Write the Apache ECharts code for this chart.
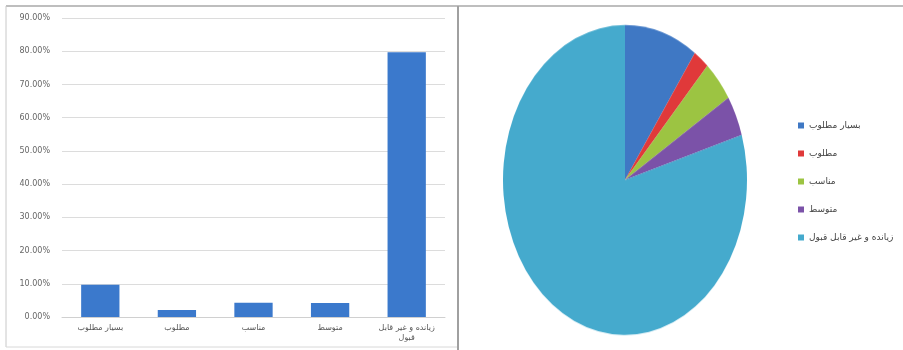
<!DOCTYPE html>
<html>
<head>
<meta charset="utf-8">
<script src="https://cdn.jsdelivr.net/npm/echarts@6/dist/echarts.min.js"></script>
<style>
  html, body { margin: 0; padding: 0; background: #fff; }
  #main { position: absolute; left: 0; top: 0; width: 903px; height: 350px; }
  #pie { position: absolute; left: 500px; top: 55px; width: 250px; height: 250px; transform: scaleY(1.27); transform-origin: 50% 50%; }
</style>
</head>
<body>
<div id="main"></div>
<div id="pie"></div>
<script>
const categories = ['بسیار مطلوب', 'مطلوب', 'مناسب', 'متوسط', 'زیانده و غیر قابل\nقبول'];
const legendNames = ['بسیار مطلوب', 'مطلوب', 'مناسب', 'متوسط', 'زیانده و غیر قابل قبول'];
const values = [9.7, 2.1, 4.3, 4.2, 79.7];
const pieColors = ['#3f78c4', '#e0393a', '#9cc442', '#7b52a8', '#45aacd'];
const yTicks = [0, 10, 20, 30, 40, 50, 60, 70, 80, 90];

const font = 'DejaVu Sans';

const main = echarts.init(document.getElementById('main'), null, { renderer: 'canvas' });
main.setOption({
  animation: false,
  textStyle: { fontFamily: font },
  graphic: [
    { type: 'line', shape: { x1: 6, y1: 6, x2: 903, y2: 6 }, style: { stroke: '#a8a8a8', lineWidth: 1.5 } },
    { type: 'line', shape: { x1: 6, y1: 6, x2: 6, y2: 347 }, style: { stroke: '#c8c8c8', lineWidth: 1 } },
    { type: 'line', shape: { x1: 6, y1: 347, x2: 458, y2: 347 }, style: { stroke: '#d8d8d8', lineWidth: 1 } },
    { type: 'line', shape: { x1: 458, y1: 6, x2: 458, y2: 350 }, style: { stroke: '#a0a0a0', lineWidth: 2 } }
  ],
  grid: { left: 62, right: 903 - 445, top: 18, bottom: 350 - 317, containLabel: false },
  xAxis: {
    type: 'category',
    data: categories,
    axisLine: { show: true, lineStyle: { color: '#d0d0d0' } },
    axisTick: { show: false },
    axisLabel: { color: '#555', fontSize: 8, fontFamily: font, margin: 6, lineHeight: 10, interval: 0 }
  },
  yAxis: {
    type: 'value',
    min: yTicks[0],
    max: yTicks[yTicks.length - 1],
    interval: 10,
    axisLine: { show: false },
    axisTick: { show: false },
    splitLine: { lineStyle: { color: '#dcdcdc', width: 1 } },
    axisLabel: { color: '#666', fontSize: 8, fontFamily: font, margin: 12, formatter: v => v.toFixed(2) + '%' }
  },
  legend: {
    orient: 'vertical',
    left: 793,
    top: 116,
    itemGap: 19,
    itemWidth: 6,
    itemHeight: 6,
    icon: 'rect',
    data: legendNames,
    textStyle: { color: '#444', fontSize: 9, fontFamily: font }
  },
  series: [
    {
      type: 'bar',
      data: values,
      barWidth: '50%',
      itemStyle: { color: '#3b79cc' }
    },
    {
      type: 'pie',
      radius: [0, 0],
      center: [-100, -100],
      silent: true,
      label: { show: false },
      labelLine: { show: false },
      data: legendNames.map((n, i) => ({ name: n, value: values[i], itemStyle: { color: pieColors[i] } }))
    }
  ]
});

const pie = echarts.init(document.getElementById('pie'), null, { renderer: 'svg' });
pie.setOption({
  animation: false,
  series: [{
    type: 'pie',
    center: [125, 125],
    radius: [0, 122],
    startAngle: 90,
    clockwise: true,
    label: { show: false },
    labelLine: { show: false },
    itemStyle: { borderWidth: 0 },
    data: legendNames.map((n, i) => ({ name: n, value: values[i], itemStyle: { color: pieColors[i] } }))
  }]
});
</script>
</body>
</html>
